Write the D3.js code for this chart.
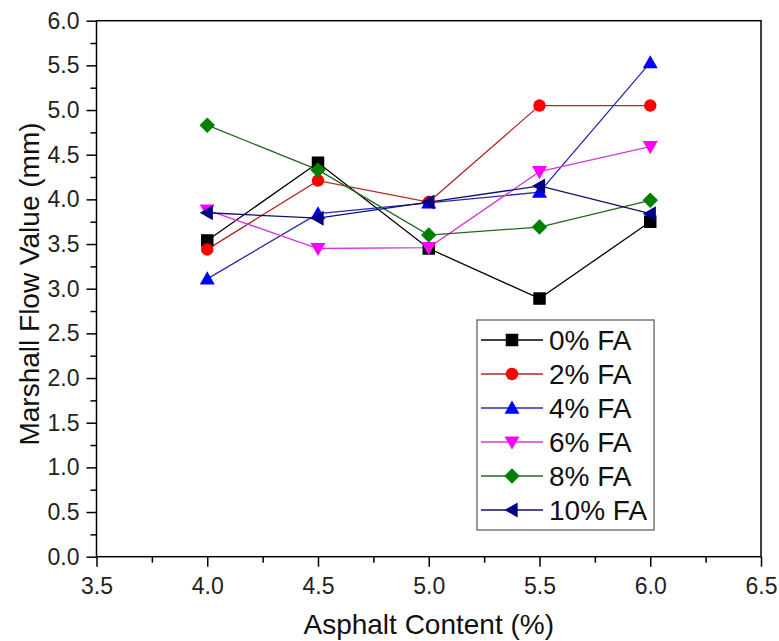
<!DOCTYPE html>
<html>
<head>
<meta charset="utf-8">
<script src="https://cdn.jsdelivr.net/npm/d3@7"></script>
<style>
  body { margin: 0; background: #fff; }
  svg { font-family: "Liberation Sans", Arial, sans-serif; }
</style>
</head>
<body>
<div id="chart"></div>
<script>
// asphalt content (%)
var asphalt = [4.0, 4.5, 5.0, 5.5, 6.0];

var seriesNames = ['0% FA', '2% FA', '4% FA', '6% FA', '8% FA', '10% FA'];
var fa0  = [3.54, 4.41, 3.45, 2.89, 3.75];
var fa2  = [3.44, 4.21, 3.97, 5.05, 5.05];
var fa4  = [3.11, 3.84, 3.96, 4.08, 5.53];
var fa6  = [3.88, 3.45, 3.46, 4.31, 4.59];
var fa8  = [4.83, 4.33, 3.60, 3.69, 3.99];
var fa10 = [3.85, 3.79, 3.97, 4.15, 3.84];

var xTicks = [3.5, 4.0, 4.5, 5.0, 5.5, 6.0, 6.5];
var yTicks = [0, 0.5, 1, 1.5, 2, 2.5, 3, 3.5, 4, 4.5, 5, 5.5, 6];

var W = 779, H = 641;
var plotL = 96.5, plotR = 761, plotT = 20.7, plotB = 556.7;

var colors = ['#000000', '#ff0000', '#0000ff', '#ff00ff', '#008000', '#000080'];
var lineColors = ['#000000', '#b02828', '#2828b0', '#d838d8', '#206820', '#10106a'];
var symbols = ['square', 'circle', 'up', 'down', 'diamond', 'left'];

var svg = d3.select('#chart').append('svg').attr('width', W).attr('height', H);

var x = d3.scaleLinear().domain([3.5, 6.5]).range([plotL, plotR]);
var y = d3.scaleLinear().domain([0, 6]).range([plotB, plotT]);

// frame
svg.append('rect').attr('x', plotL).attr('y', plotT).attr('width', plotR - plotL).attr('height', plotB - plotT)
    .attr('fill', 'none').attr('stroke', '#000').attr('stroke-width', 1.5);

// minor ticks
var minorX = d3.range(3.75, 6.5, 0.5);
var minorY = d3.range(0.25, 6, 0.5);

var xAxis = d3.axisBottom(x).tickValues(xTicks).tickFormat(d3.format('.1f')).tickSize(10).tickPadding(11);
var gx = svg.append('g').attr('transform', 'translate(0,' + plotB + ')').call(xAxis);
var gxm = svg.append('g').attr('transform', 'translate(0,' + plotB + ')')
    .call(d3.axisBottom(x).tickValues(minorX).tickFormat('').tickSize(6));

var yAxis = d3.axisLeft(y).tickValues(yTicks).tickFormat(d3.format('.1f')).tickSize(10).tickPadding(7);
var gy = svg.append('g').attr('transform', 'translate(' + plotL + ',0)').call(yAxis);
var gym = svg.append('g').attr('transform', 'translate(' + plotL + ',0)')
    .call(d3.axisLeft(y).tickValues(minorY).tickFormat('').tickSize(6));

[gx, gxm, gy, gym].forEach(function (g) {
    g.select('.domain').remove();
    g.selectAll('line').attr('stroke', '#000').attr('stroke-width', 1.5);
    g.selectAll('text').attr('fill', '#222').style('font-size', '23px');
});

// axis titles
svg.append('text').attr('x', (plotL + plotR) / 2).attr('y', 634).attr('text-anchor', 'middle')
    .style('font-size', '28px').attr('fill', '#111').text('Asphalt Content (%)');
svg.append('text').attr('transform', 'translate(39,284) rotate(-90)')
    .attr('text-anchor', 'middle').style('font-size', '28px').attr('fill', '#111').text('Marshall Flow Value (mm)');

function symbolPath(kind, s) {
    if (kind === 'square') return d3.symbol(d3.symbolSquare, s * s)();
    if (kind === 'circle') return d3.symbol(d3.symbolCircle, Math.PI * s * s / 4)();
    if (kind === 'diamond') return 'M0,' + (-s * 0.62) + 'L' + (s * 0.62) + ',0L0,' + (s * 0.62) + 'L' + (-s * 0.62) + ',0Z';
    var t = s * 0.6;
    if (kind === 'up') return 'M0,' + (-t) + 'L' + (t) + ',' + (t * 0.75) + 'L' + (-t) + ',' + (t * 0.75) + 'Z';
    if (kind === 'down') return 'M0,' + (t) + 'L' + (t) + ',' + (-t * 0.75) + 'L' + (-t) + ',' + (-t * 0.75) + 'Z';
    if (kind === 'left') return 'M' + (-t) + ',0L' + (t * 0.75) + ',' + (-t) + 'L' + (t * 0.75) + ',' + (t) + 'Z';
}

var allSeries = [fa0, fa2, fa4, fa6, fa8, fa10];
var line = d3.line().x(function (d, i) { return x(asphalt[i]); }).y(function (d) { return y(d); });

allSeries.forEach(function (vals, k) {
    svg.append('path').datum(vals).attr('d', line).attr('fill', 'none')
        .attr('stroke', lineColors[k]).attr('stroke-width', 1.3);
});
allSeries.forEach(function (vals, k) {
    svg.append('g').selectAll('path').data(vals).enter().append('path')
        .attr('transform', function (d, i) { return 'translate(' + x(asphalt[i]) + ',' + y(d) + ')'; })
        .attr('d', symbolPath(symbols[k], 12.5))
        .attr('fill', colors[k]);
});

// legend
var leg = svg.append('g');
leg.append('rect').attr('x', 477).attr('y', 320).attr('width', 177).attr('height', 210)
    .attr('fill', '#fff').attr('stroke', '#555').attr('stroke-width', 1.2);
seriesNames.forEach(function (name, k) {
    var ly = 340 + k * 34;
    leg.append('line').attr('x1', 481).attr('x2', 543).attr('y1', ly).attr('y2', ly)
        .attr('stroke', lineColors[k]).attr('stroke-width', 1.3);
    leg.append('path').attr('transform', 'translate(512,' + ly + ')')
        .attr('d', symbolPath(symbols[k], 12.5)).attr('fill', colors[k]);
    leg.append('text').attr('x', 549).attr('y', ly + 10).style('font-size', '28px')
        .attr('fill', '#111').text(name);
});
</script>
</body>
</html>
